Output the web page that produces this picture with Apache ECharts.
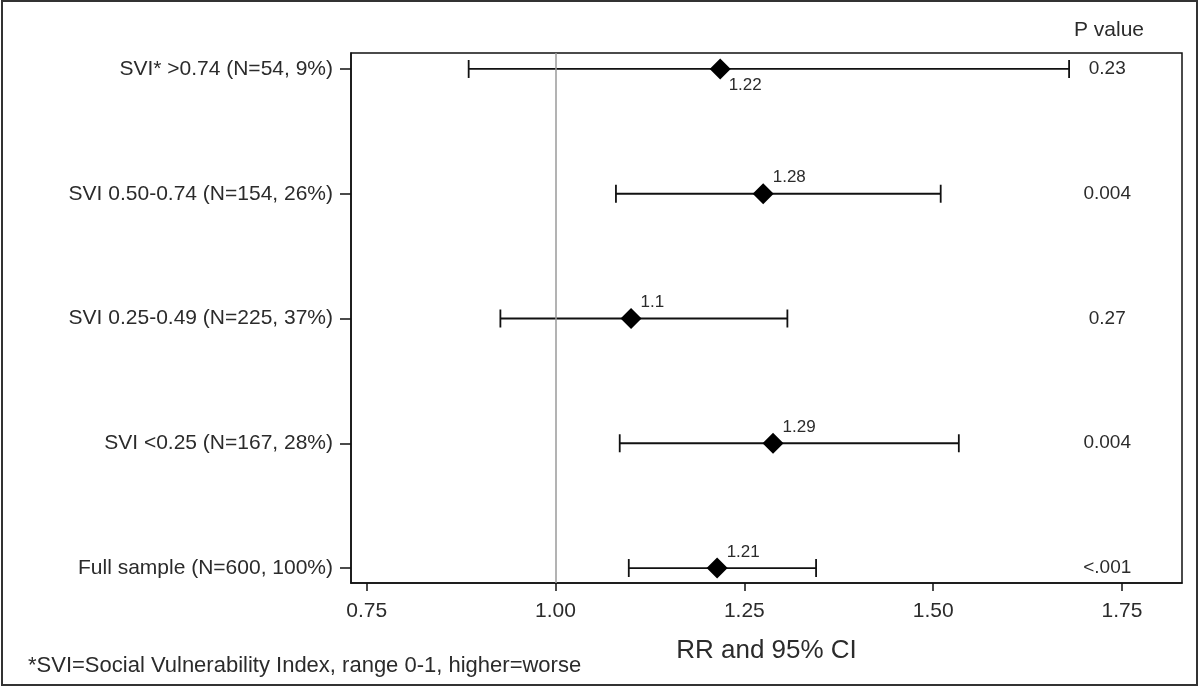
<!DOCTYPE html>
<html>
<head>
<meta charset="utf-8">
<script src="https://cdn.jsdelivr.net/npm/echarts@6/dist/echarts.min.js"></script>
<style>
  html, body { margin: 0; padding: 0; background: #fff; }
  #chart { width: 1200px; height: 688px; }
</style>
</head>
<body>
<div id="chart"></div>
<script>
// ---- Data ----
const categories = [
  'SVI* >0.74 (N=54, 9%)',
  'SVI 0.50-0.74 (N=154, 26%)',
  'SVI 0.25-0.49 (N=225, 37%)',
  'SVI <0.25 (N=167, 28%)',
  'Full sample (N=600, 100%)'
];
const rrEstimate = [1.218, 1.275, 1.100, 1.288, 1.214];
const rrLabels   = ['1.22', '1.28', '1.1', '1.29', '1.21'];
const ciLower    = [0.885, 1.080, 0.927, 1.085, 1.097];
const ciUpper    = [1.680, 1.510, 1.307, 1.534, 1.345];
const pValues    = ['0.23', '0.004', '0.27', '0.004', '<.001'];
const xTicks     = [0.75, 1.00, 1.25, 1.50, 1.75];
const referenceRR = 1.0;

// ---- Layout / style ----
const FONT = "'Liberation Sans', Arial, sans-serif";
const TXT = '#2b2b2b';
const INK = '#111';
const pColumnX = 1.7305; // x-position (axis units) of the P value column

const chart = echarts.init(document.getElementById('chart'), null, { renderer: 'canvas' });
const rows = categories.map((_, i) => i);

const option = {
  animation: false,
  backgroundColor: '#fff',
  grid: {
    left: 351, right: 18, top: 53, bottom: 105,
    show: true, borderColor: INK, borderWidth: 1.5, backgroundColor: 'transparent'
  },
  xAxis: {
    type: 'value',
    min: 0.7292, max: 1.8295,
    name: 'RR and 95% CI',
    nameLocation: 'middle',
    nameGap: 55,
    nameTextStyle: { fontFamily: FONT, fontSize: 26, color: TXT },
    axisLine: { show: true, onZero: false, lineStyle: { color: INK, width: 1.5 } },
    axisTick: { show: true, length: 8, customValues: xTicks, lineStyle: { color: INK, width: 1.5 } },
    axisLabel: {
      customValues: xTicks, margin: 18,
      fontFamily: FONT, fontSize: 21, color: TXT,
      formatter: v => Number(v).toFixed(2)
    },
    splitLine: { show: false }
  },
  yAxis: {
    type: 'value',
    inverse: true,
    min: -0.128, max: 4.12,
    axisLine: { show: true, onZero: false, lineStyle: { color: INK, width: 1.5 } },
    axisTick: { show: true, length: 11, customValues: rows, lineStyle: { color: INK, width: 1.5 } },
    axisLabel: {
      customValues: rows, margin: 18,
      fontFamily: FONT, fontSize: 21, color: TXT,
      formatter: v => categories[Math.round(v)] || ''
    },
    splitLine: { show: false }
  },
  graphic: [
    {
      type: 'rect', silent: true, z: 100,
      shape: { x: 2, y: 1, width: 1195, height: 684 },
      style: { fill: 'none', stroke: '#333', lineWidth: 2 }
    },
    {
      type: 'text', left: 1074, top: 20,
      style: { text: 'P value', fontFamily: FONT, fontSize: 21, fill: TXT }
    },
    {
      type: 'text', left: 28, top: 655,
      style: { text: '*SVI=Social Vulnerability Index, range 0-1, higher=worse', fontFamily: FONT, fontSize: 22, fill: TXT }
    }
  ],
  series: [
    {
      name: 'pvalue',
      type: 'scatter',
      z: 1,
      symbol: 'circle',
      symbolSize: 2,
      itemStyle: { color: 'rgba(255,255,255,0)' },
      data: rows.map(i => [pColumnX, i]),
      label: {
        show: true, position: [1, 1], align: 'center', verticalAlign: 'middle',
        fontFamily: FONT, fontSize: 19, color: TXT, opacity: 1,
        textBorderWidth: 0,
        formatter: p => pValues[p.dataIndex]
      },
      markLine: {
        silent: true,
        symbol: 'none',
        label: { show: false },
        lineStyle: { color: '#9a9a9a', width: 1.5, type: 'solid' },
        data: [{ xAxis: referenceRR }]
      }
    },
    {
      name: 'ci',
      type: 'custom',
      z: 2,
      encode: { x: [1, 2], y: 0 },
      data: rows.map(i => [i, ciLower[i], ciUpper[i]]),
      renderItem: (params, api) => {
        const yi = api.value(0);
        const p1 = api.coord([api.value(1), yi]);
        const p2 = api.coord([api.value(2), yi]);
        const h = 9;
        const st = { stroke: INK, lineWidth: 1.8 };
        return {
          type: 'group',
          children: [
            { type: 'line', shape: { x1: p1[0], y1: p1[1], x2: p2[0], y2: p2[1] }, style: st },
            { type: 'line', shape: { x1: p1[0], y1: p1[1] - h, x2: p1[0], y2: p1[1] + h }, style: st },
            { type: 'line', shape: { x1: p2[0], y1: p2[1] - h, x2: p2[0], y2: p2[1] + h }, style: st }
          ]
        };
      }
    },
    {
      name: 'rr',
      type: 'scatter',
      z: 3,
      symbol: 'diamond',
      symbolSize: [21, 21],
      itemStyle: { color: '#000', opacity: 1 },
      data: rows.map(i => ({
        value: [rrEstimate[i], i],
        label: { offset: i === 0 ? [-7, 16] : [-6, -16] }
      })),
      label: {
        show: true, position: 'right', distance: 5,
        fontFamily: FONT, fontSize: 17, color: TXT,
        formatter: p => rrLabels[p.dataIndex]
      }
    }
  ]
};

chart.setOption(option);
</script>
</body>
</html>
